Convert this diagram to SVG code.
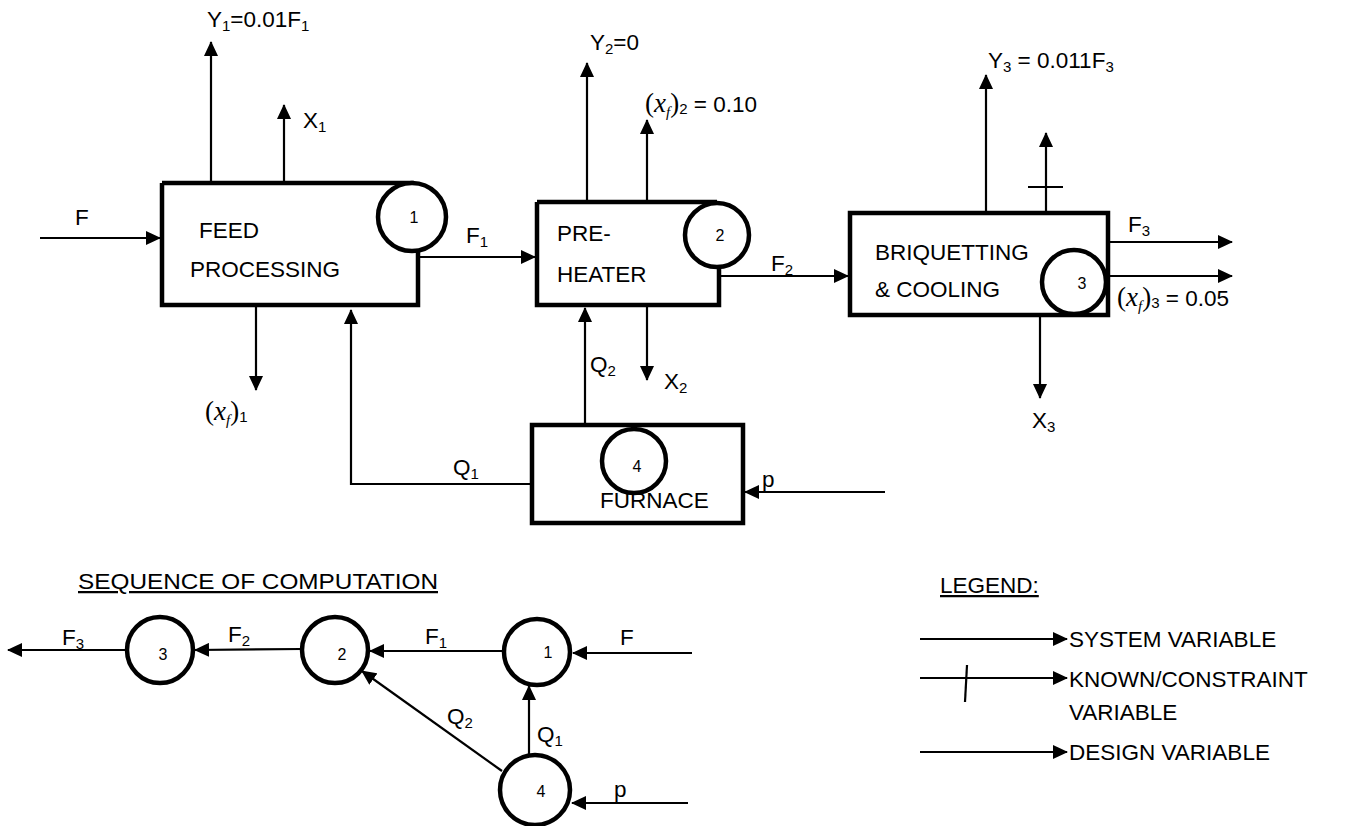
<svg xmlns="http://www.w3.org/2000/svg" width="1350" height="826" viewBox="0 0 1350 826">
<defs>
<marker id="ah" viewBox="0 0 15 14" refX="14" refY="7" markerWidth="15" markerHeight="14" markerUnits="userSpaceOnUse" orient="auto">
<path d="M0,0 L15,7 L0,14 Z" fill="#000"/>
</marker>
</defs>
<style>
.box{fill:none;stroke:#000;stroke-width:4.5}
.circ{fill:#fff;stroke:#000;stroke-width:4.5}
.ln{fill:none;stroke:#000;stroke-width:2.2}
.ar{fill:none;stroke:#000;stroke-width:2.2;marker-end:url(#ah)}
text{font-family:"Liberation Sans",Arial,sans-serif;font-size:22.5px;fill:#000}
.num{font-size:16px;text-anchor:middle}
.m{font-family:"Liberation Serif","Times New Roman",serif;font-size:27px}
.i{font-style:italic}
.sub{font-size:15px}
</style>
<rect width="1350" height="826" fill="#fff"/>

<g id="node-feed">
<path class="box" d="M162,183 H414 M418,252 V305 H162 V183"/>
<circle class="circ" cx="412" cy="217" r="34"/>
<text class="num" x="414" y="223">1</text>
<text x="199" y="238">FEED</text>
<text x="190" y="277">PROCESSING</text>
</g>

<g id="node-preheater">
<path class="box" d="M537,202 H717 M719,267 V305 H537 V202"/>
<circle class="circ" cx="717" cy="235" r="32"/>
<text class="num" x="720" y="241">2</text>
<text x="557" y="241">PRE-</text>
<text x="557" y="282">HEATER</text>
</g>

<g id="node-briq">
<path class="box" d="M850,213 H1108 V315 H850 Z"/>
<circle class="circ" cx="1074" cy="282" r="32"/>
<text class="num" x="1082" y="289">3</text>
<text x="875" y="260">BRIQUETTING</text>
<text x="875" y="297">&amp; COOLING</text>
</g>

<g id="node-furnace">
<rect class="box" x="532" y="425" width="211" height="98"/>
<circle class="circ" cx="634" cy="461" r="32"/>
<text class="num" x="637" y="472">4</text>
<text x="600" y="508">FURNACE</text>
</g>

<g id="connectors">
<line class="ar" x1="40" y1="238" x2="160" y2="238"/>
<line class="ar" x1="211" y1="183" x2="211" y2="42"/>
<line class="ar" x1="284" y1="183" x2="284" y2="105"/>
<line class="ar" x1="256" y1="305" x2="256" y2="390"/>
<polyline class="ar" points="530,484 351,484 351,310"/>
<line class="ar" x1="418" y1="257" x2="535" y2="257"/>
<line class="ar" x1="587" y1="202" x2="587" y2="63"/>
<line class="ar" x1="647" y1="202" x2="647" y2="120"/>
<line class="ar" x1="585" y1="425" x2="585" y2="308"/>
<line class="ar" x1="647" y1="305" x2="647" y2="380"/>
<line class="ar" x1="719" y1="276" x2="848" y2="276"/>
<line class="ar" x1="885" y1="492" x2="745" y2="492"/>
<line class="ar" x1="986" y1="213" x2="986" y2="75"/>
<line class="ar" x1="1046" y1="213" x2="1046" y2="133"/>
<line class="ln" x1="1028" y1="187" x2="1063" y2="187"/>
<line class="ar" x1="1108" y1="242" x2="1232" y2="242"/>
<line class="ar" x1="1106" y1="276" x2="1232" y2="276"/>
<line class="ar" x1="1040" y1="315" x2="1040" y2="398"/>
</g>

<g id="labels-top">
<text x="75" y="225">F</text>
<text x="207" y="27">Y<tspan class="sub" dy="4">1</tspan><tspan dy="-4">=0.01F</tspan><tspan class="sub" dy="4">1</tspan></text>
<text x="303" y="128">X<tspan class="sub" dy="4">1</tspan></text>
<text x="205" y="420"><tspan class="m">(</tspan><tspan class="m i">x</tspan><tspan class="m i sub" dy="5">f</tspan><tspan class="m" dy="-5">)</tspan><tspan class="sub" dy="2">1</tspan></text>
<text x="466" y="243">F<tspan class="sub" dy="4">1</tspan></text>
<text x="453" y="475">Q<tspan class="sub" dy="4">1</tspan></text>
<text x="590" y="50">Y<tspan class="sub" dy="4">2</tspan><tspan dy="-4">=0</tspan></text>
<text x="645" y="112"><tspan class="m">(</tspan><tspan class="m i">x</tspan><tspan class="m i sub" dy="5">f</tspan><tspan class="m" dy="-5">)</tspan><tspan class="sub" dy="2">2</tspan><tspan dy="-2"> = 0.10</tspan></text>
<text x="590" y="372">Q<tspan class="sub" dy="4">2</tspan></text>
<text x="664" y="389">X<tspan class="sub" dy="4">2</tspan></text>
<text x="771" y="271">F<tspan class="sub" dy="4">2</tspan></text>
<text x="762" y="487">p</text>
<text x="988" y="68">Y<tspan class="sub" dy="4">3</tspan><tspan dy="-4"> = 0.011F</tspan><tspan class="sub" dy="4">3</tspan></text>
<text x="1128" y="232">F<tspan class="sub" dy="4">3</tspan></text>
<text x="1117" y="306"><tspan class="m">(</tspan><tspan class="m i">x</tspan><tspan class="m i sub" dy="5">f</tspan><tspan class="m" dy="-5">)</tspan><tspan class="sub" dy="2">3</tspan><tspan dy="-2"> = 0.05</tspan></text>
<text x="1032" y="428">X<tspan class="sub" dy="4">3</tspan></text>
</g>

<g id="seq-title">
<text x="78" y="589" text-decoration="underline" textLength="360" lengthAdjust="spacingAndGlyphs">SEQUENCE OF COMPUTATION</text>
</g>

<g id="seq-node-3">
<circle class="circ" cx="160" cy="650" r="33"/>
<text class="num" x="163" y="660">3</text>
</g>
<g id="seq-node-2">
<circle class="circ" cx="335" cy="650" r="33"/>
<text class="num" x="342" y="660">2</text>
</g>
<g id="seq-node-1">
<circle class="circ" cx="537" cy="652" r="33"/>
<text class="num" x="548" y="658">1</text>
</g>
<g id="seq-node-4">
<circle class="circ" cx="535" cy="790" r="35"/>
<text class="num" x="541" y="797">4</text>
</g>

<g id="seq-connectors">
<line class="ar" x1="125" y1="650" x2="8" y2="650"/>
<line class="ar" x1="302" y1="649" x2="195" y2="650"/>
<line class="ar" x1="503" y1="651" x2="370" y2="651"/>
<line class="ar" x1="692" y1="653" x2="573" y2="653"/>
<line class="ar" x1="529" y1="755" x2="529" y2="686"/>
<line class="ar" x1="502" y1="771" x2="362" y2="671"/>
<line class="ar" x1="688" y1="803" x2="572" y2="803"/>
<text x="62" y="645">F<tspan class="sub" dy="4">3</tspan></text>
<text x="228" y="642">F<tspan class="sub" dy="4">2</tspan></text>
<text x="425" y="644">F<tspan class="sub" dy="4">1</tspan></text>
<text x="620" y="645">F</text>
<text x="447" y="724">Q<tspan class="sub" dy="4">2</tspan></text>
<text x="537" y="742">Q<tspan class="sub" dy="4">1</tspan></text>
<text x="614" y="797">p</text>
</g>

<g id="legend">
<text x="940" y="593" text-decoration="underline">LEGEND:</text>
<line class="ar" x1="920" y1="639" x2="1067" y2="639"/>
<text x="1069" y="647">SYSTEM VARIABLE</text>
<line class="ar" x1="920" y1="678" x2="1067" y2="678"/>
<line class="ln" x1="967" y1="665" x2="965" y2="702"/>
<text x="1069" y="687">KNOWN/CONSTRAINT</text>
<text x="1069" y="720">VARIABLE</text>
<line class="ar" x1="920" y1="752" x2="1067" y2="752"/>
<text x="1069" y="760">DESIGN VARIABLE</text>
</g>
</svg>
